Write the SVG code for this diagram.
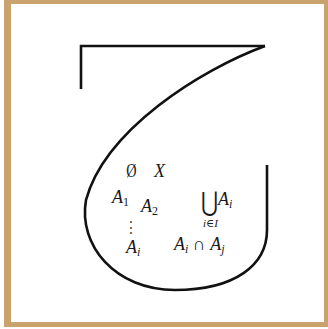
<svg xmlns="http://www.w3.org/2000/svg" width="328" height="329" viewBox="0 0 328 329">
<style>
.m{font-family:"Liberation Serif","DejaVu Serif",serif;font-size:18px;fill:#1a1a1a}
.i{font-style:italic}
.s{font-size:12px}
.sym{font-family:"DejaVu Serif","Liberation Serif",serif;fill:#1a1a1a}
</style>
<rect x="0" y="0" width="328" height="329" fill="#fff"/>
<g id="frame">
<rect x="4" y="0" width="324" height="327" fill="#c9a26e"/>
<rect x="11" y="4" width="313" height="318" fill="#fff"/>
</g>
<g id="shape" fill="none" stroke="#111" stroke-width="2.6" stroke-linejoin="miter">
<path d="M81 89 L81 46 L265 46"/>
<path d="M265 46 C200 70 105 130 86 200 C78 245 115 290 175 290 C235 290 267 265 267 230 L267 165"/>
</g>
<g id="labels">
<text class="m" x="125" y="177" style="font-size:19px" transform="translate(130 0) scale(0.75 1) translate(-130 0)">Ø</text>
<text class="m i" x="154" y="177">X</text>
<text class="m i" x="112" y="203">A<tspan class="s" font-style="normal" dy="3">1</tspan></text>
<text class="m i" x="141" y="212">A<tspan class="s" font-style="normal" dy="3">2</tspan></text>
<text class="sym" x="0" y="0" style="font-size:21px" transform="translate(201 211) scale(1 1.3)">⋃</text>
<text class="m i" x="218" y="205">A<tspan class="s" dy="3">i</tspan></text>
<text class="m i" x="203" y="227" style="font-size:11px">i<tspan font-style="normal">∈</tspan>I</text>
<text class="sym" x="0" y="0" style="font-size:12px" transform="translate(124.5 233) scale(1 1.35)">⋮</text>
<text class="m i" x="126" y="253">A<tspan class="s" dy="3">i</tspan></text>
<text class="m i" x="174" y="250">A<tspan class="s" dy="3">i</tspan><tspan dy="-3" font-style="normal"> ∩ </tspan>A<tspan class="s" dy="3">j</tspan></text>
</g>
</svg>
